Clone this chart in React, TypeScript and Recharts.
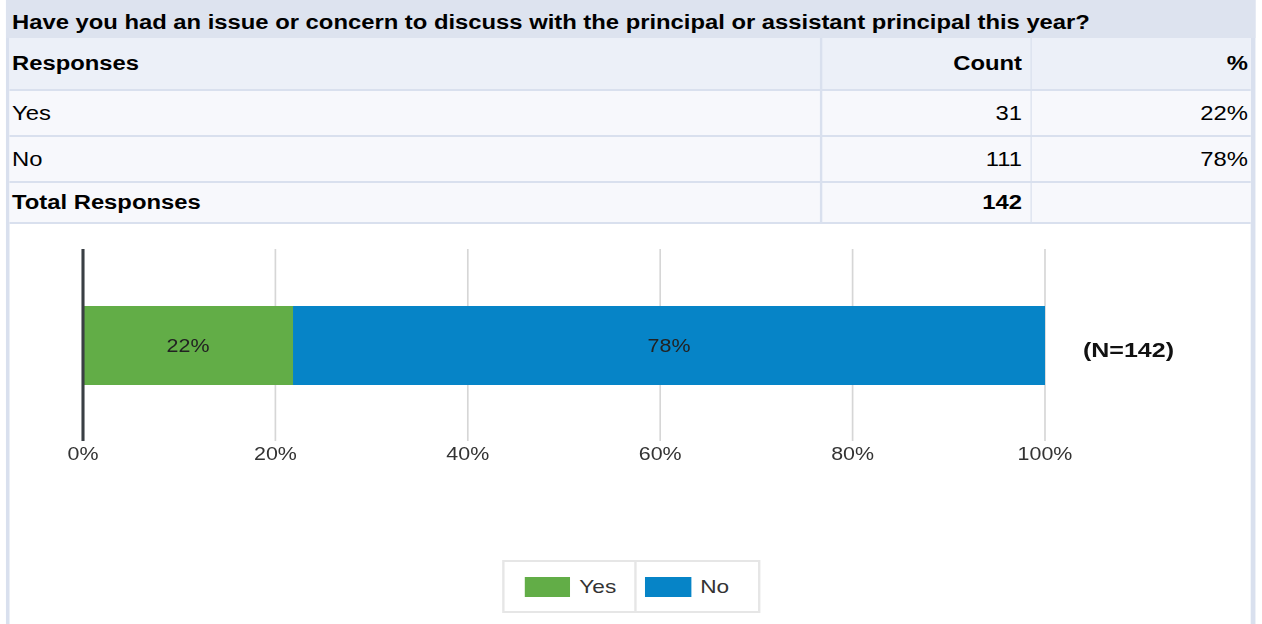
import React from 'react';
import { BarChart, Bar, XAxis, YAxis, CartesianGrid, ReferenceLine, LabelList, Legend } from 'recharts';

// ---------- data ----------
const questionTitle =
  'Have you had an issue or concern to discuss with the principal or assistant principal this year?';
const headerLabels = ['Responses', 'Count', '%'];
const responseLabels = ['Yes', 'No'];
const responseCounts = [31, 111];
const responsePercents = ['22%', '78%'];
const totalLabel = 'Total Responses';
const totalCount = 142;
const xTickValues = [0, 0.2, 0.4, 0.6, 0.8, 1];
const xTickLabels = ['0%', '20%', '40%', '60%', '80%', '100%'];
const nLabel = '(N=142)';
const seriesColors = ['#62ad47', '#0684c7'];

const chartData = [
  {
    nLabel,
    s0: responseCounts[0] / totalCount,
    s1: responseCounts[1] / totalCount,
    l0: responsePercents[0],
    l1: responsePercents[1],
  },
];

// ---------- layout helpers ----------
const S = 1.19; // horizontal stretch of the reference
const PAGE_W = 1262;
const PAGE_H = 624;
const BASE_W = PAGE_W / S;
const bx = (x: number) => x / S;

const TABLE_FONT = '"Liberation Sans", Arial, Helvetica, sans-serif';
const CHART_FONT = '"Liberation Sans", Arial, Helvetica, sans-serif';

const TITLE_BG = '#dde3ef';
const HEAD_BG = '#ecf0f8';
const ROW_BG = '#f7f8fc';
const LINE = '#d9e0ee';

const Box = ({ x1, x2, y1, y2, bg }: { x1: number; x2: number; y1: number; y2: number; bg: string }) => (
  <div
    style={{
      position: 'absolute',
      left: bx(x1),
      width: bx(x2 - x1),
      top: y1,
      height: y2 - y1,
      background: bg,
    }}
  />
);

const Cell = ({
  x1,
  x2,
  y1,
  y2,
  align,
  bold,
  children,
}: {
  x1: number;
  x2: number;
  y1: number;
  y2: number;
  align: 'left' | 'right';
  bold?: boolean;
  children: React.ReactNode;
}) => (
  <div
    style={{
      position: 'absolute',
      left: bx(x1),
      width: bx(x2 - x1),
      top: y1,
      height: y2 - y1,
      display: 'flex',
      alignItems: 'center',
      justifyContent: align === 'left' ? 'flex-start' : 'flex-end',
      fontSize: 20,
      fontWeight: bold ? 'bold' : 'normal',
      color: '#000',
      whiteSpace: 'nowrap',
      fontFamily: TABLE_FONT,
    }}
  >
    {children}
  </div>
);

const rowBands = [
  [91, 135],
  [137, 181],
];
const totalBand = [183, 222];

const Table = () => (
  <>
    {/* outer borders */}
    <Box x1={6} x2={10} y1={0} y2={PAGE_H} bg={LINE} />
    <Box x1={1251} x2={1255} y1={0} y2={PAGE_H} bg={LINE} />
    {/* title */}
    <Box x1={6} x2={1255} y1={0} y2={38} bg={TITLE_BG} />
    <Cell x1={12} x2={1250} y1={4} y2={40} align="left" bold>
      {questionTitle}
    </Cell>
    {/* header */}
    <Box x1={10} x2={1251} y1={38} y2={89} bg={HEAD_BG} />
    <Box x1={10} x2={1251} y1={89} y2={91} bg={LINE} />
    <Cell x1={12} x2={800} y1={38} y2={89} align="left" bold>
      {headerLabels[0]}
    </Cell>
    <Cell x1={822} x2={1022} y1={38} y2={89} align="right" bold>
      {headerLabels[1]}
    </Cell>
    <Cell x1={1032} x2={1248} y1={38} y2={89} align="right" bold>
      {headerLabels[2]}
    </Cell>
    {/* rows */}
    {responseLabels.map((lab, i) => (
      <React.Fragment key={lab}>
        <Box x1={10} x2={1251} y1={rowBands[i][0]} y2={rowBands[i][1]} bg={ROW_BG} />
        <Box x1={10} x2={1251} y1={rowBands[i][1]} y2={rowBands[i][1] + 2} bg={LINE} />
        <Cell x1={12} x2={800} y1={rowBands[i][0]} y2={rowBands[i][1]} align="left">
          {lab}
        </Cell>
        <Cell x1={822} x2={1022} y1={rowBands[i][0]} y2={rowBands[i][1]} align="right">
          {responseCounts[i]}
        </Cell>
        <Cell x1={1032} x2={1248} y1={rowBands[i][0]} y2={rowBands[i][1]} align="right">
          {responsePercents[i]}
        </Cell>
      </React.Fragment>
    ))}
    {/* total */}
    <Box x1={10} x2={1251} y1={totalBand[0]} y2={totalBand[1]} bg={ROW_BG} />
    <Box x1={10} x2={1251} y1={totalBand[1]} y2={totalBand[1] + 2} bg={LINE} />
    <Cell x1={12} x2={800} y1={totalBand[0]} y2={totalBand[1]} align="left" bold>
      {totalLabel}
    </Cell>
    <Cell x1={822} x2={1022} y1={totalBand[0]} y2={totalBand[1]} align="right" bold>
      {totalCount}
    </Cell>
    {/* column separators */}
    <Box x1={820} x2={822} y1={38} y2={224} bg={LINE} />
    <Box x1={1030} x2={1032} y1={38} y2={224} bg={LINE} />
  </>
);

// ---------- chart ----------
const CHART_TOP = 224;
const CHART_H = 400;
const PLOT_LEFT = 83;
const PLOT_RIGHT = 1045;
const Y_AXIS_W = 120;

const XTick = (props: any) => {
  const { x, y, payload } = props;
  const idx = xTickValues.indexOf(payload.value);
  return (
    <text
      x={x}
      y={y + 13}
      textAnchor="middle"
      dominantBaseline="central"
      fill="#333"
      fontSize={18}
      fontFamily={CHART_FONT}
    >
      {xTickLabels[idx]}
    </text>
  );
};

const YTick = (props: any) => {
  const { x, y, payload } = props;
  return (
    <text
      x={x + bx(38)}
      y={y + 5}
      textAnchor="start"
      dominantBaseline="central"
      fill="#111"
      fontSize={21}
      fontWeight="bold"
      fontFamily={CHART_FONT}
    >
      {payload.value}
    </text>
  );
};

const legendCellWidths = [133, 125];
const legendCellPads = [20, 9];

const renderLegend = () => (
  <div
    style={{
      display: 'flex',
      border: '2px solid #e6e6e6',
      height: 49,
      background: '#fff',
    }}
  >
    {responseLabels.map((lab, i) => (
      <div
        key={lab}
        style={{
          width: bx(legendCellWidths[i]) - (i ? 0 : 2),
          borderLeft: i ? '2px solid #e6e6e6' : 'none',
          boxSizing: 'border-box',
          display: 'flex',
          alignItems: 'center',
          paddingLeft: bx(legendCellPads[i]),
        }}
      >
        <span style={{ display: 'inline-block', width: bx(46), height: 20, background: seriesColors[i] }} />
        <span
          style={{
            marginLeft: bx(9),
            fontSize: 19,
            color: '#333',
            fontFamily: CHART_FONT,
            lineHeight: '20px',
          }}
        >
          {lab}
        </span>
      </div>
    ))}
  </div>
);

const Chart = () => (
  <div style={{ position: 'absolute', left: 0, top: CHART_TOP, width: BASE_W, height: CHART_H }}>
    <BarChart
      width={BASE_W}
      height={CHART_H}
      data={chartData}
      layout="vertical"
      margin={{
        top: 25,
        bottom: 153,
        left: bx(PLOT_LEFT),
        right: BASE_W - bx(PLOT_RIGHT) - Y_AXIS_W,
      }}
    >
      <CartesianGrid horizontal={false} stroke="#d6d6d6" strokeWidth={1.4} />
      <XAxis
        type="number"
        domain={[0, 1]}
        ticks={xTickValues}
        axisLine={false}
        tickLine={false}
        tickSize={0}
        tickMargin={0}
        height={30}
        tick={<XTick />}
        interval={0}
      />
      <YAxis
        type="category"
        dataKey="nLabel"
        orientation="right"
        width={Y_AXIS_W}
        axisLine={false}
        tickLine={false}
        tickSize={0}
        tickMargin={0}
        tick={<YTick />}
      />
      <Legend
        layout="horizontal"
        verticalAlign="middle"
        align="center"
        wrapperStyle={{ left: bx(502), top: 560 - CHART_TOP, width: bx(258), height: 53 }}
        content={renderLegend}
      />
      <Bar dataKey="s0" name={responseLabels[0]} stackId="a" fill={seriesColors[0]} barSize={79} isAnimationActive={false}>
        <LabelList dataKey="l0" position="center" fill="#222" fontSize={18} fontFamily={CHART_FONT} />
      </Bar>
      <Bar dataKey="s1" name={responseLabels[1]} stackId="a" fill={seriesColors[1]} barSize={79} isAnimationActive={false}>
        <LabelList dataKey="l1" position="center" fill="#222" fontSize={18} fontFamily={CHART_FONT} />
      </Bar>
      <ReferenceLine x={0} stroke="#3a3f44" strokeWidth={2.6} />
    </BarChart>
  </div>
);

export default function App() {
  return (
    <div
      style={{
        position: 'absolute',
        left: 0,
        top: 0,
        width: PAGE_W,
        height: PAGE_H,
        overflow: 'hidden',
        background: '#fff',
      }}
    >
      <div
        style={{
          position: 'absolute',
          left: 0,
          top: 0,
          width: BASE_W,
          height: PAGE_H,
          transform: `scaleX(${S})`,
          transformOrigin: '0 0',
        }}
      >
        <Table />
        <Chart />
      </div>
    </div>
  );
}
